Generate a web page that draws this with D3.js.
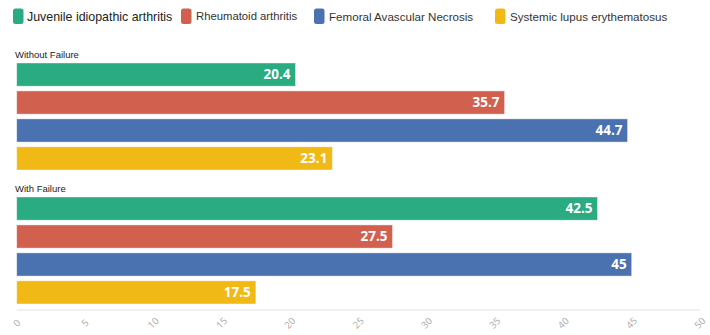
<!DOCTYPE html>
<html>
<head>
<meta charset="utf-8">
<script src="https://cdn.jsdelivr.net/npm/d3@7"></script>
<style>
  html, body { margin: 0; padding: 0; background: #fff; }
  svg { display: block; }
</style>
</head>
<body>
<svg id="chart" width="710" height="335"></svg>
<script>
// Outcome groups and disease series
const groups = ["Without Failure", "With Failure"];
const series = ["Juvenile idiopathic arthritis", "Rheumatoid arthritis", "Femoral Avascular Necrosis", "Systemic lupus erythematosus"];
const colors = ["#2aab81", "#d1604f", "#4a72b1", "#f1b916"];
const withoutFailure = [20.4, 35.7, 44.7, 23.1];
const withFailure = [42.5, 27.5, 45, 17.5];
const xTicks = [0, 5, 10, 15, 20, 25, 30, 35, 40, 45, 50];

const values = [withoutFailure, withFailure];
const rows = [];
groups.forEach((g, gi) => series.forEach((s, si) => rows.push({ group: g, series: s, value: values[gi][si], color: colors[si] })));

const svg = d3.select("#chart");

const x = d3.scaleLinear().domain([0, 50]).range([16.7, 700]);
const gy = d3.scaleBand().domain(groups).range([50, 318]);
const by = d3.scaleBand().domain(series).range([13, 120]).paddingInner(0.17);
const color = d3.scaleOrdinal().domain(series).range(colors);

// Legend
const legendX = [13, 181, 314, 495];
const legendFont = [12.4, 11.3, 11.6, 11.6];
const legend = svg.append("g");
series.forEach((s, i) => {
  const item = legend.append("g").attr("transform", `translate(${legendX[i]},0)`);
  item.append("rect").attr("x", 0).attr("y", 8.5).attr("width", 10.5).attr("height", 15.5)
    .attr("rx", 2.5).attr("fill", color(s));
  item.append("text").attr("x", i === 0 ? 14 : 15).attr("y", 16.5).attr("dy", "0.35em")
    .attr("font-family", "Liberation Sans, Arial, sans-serif").attr("font-size", legendFont[i])
    .attr("fill", i === 0 ? "#222" : "#333").text(s);
});

// Axis
const axis = svg.append("g").attr("transform", "translate(0,310)");
axis.append("line").attr("x1", x(0)).attr("x2", x(50)).attr("stroke", "#e4e4e4").attr("stroke-width", 1.2);
axis.selectAll("text").data(xTicks).join("text")
  .attr("transform", d => `translate(${x(d)},13) rotate(-45)`)
  .attr("text-anchor", "middle").attr("dy", "0.35em")
  .attr("font-family", "Open Sans, sans-serif").attr("font-size", 9.5)
  .attr("fill", "#aaa").text(d => d);

// Groups
const g = svg.selectAll("g.grp").data(groups).join("g").attr("class", "grp")
  .attr("transform", d => `translate(0,${gy(d)})`);

g.append("text").attr("x", 15).attr("y", 5).attr("dy", "0.35em")
  .attr("font-family", "Liberation Sans, Arial, sans-serif").attr("font-size", 9.5)
  .attr("fill", "#222").text(d => d);

g.selectAll("rect").data(d => rows.filter(r => r.group === d)).join("rect")
  .attr("x", x(0)).attr("y", d => by(d.series))
  .attr("width", d => x(d.value) - x(0)).attr("height", by.bandwidth())
  .attr("fill", d => d.color)
  .attr("stroke", "#ffffff").attr("stroke-opacity", 0.5).attr("stroke-width", 0.8);

g.selectAll("text.val").data(d => rows.filter(r => r.group === d)).join("text").attr("class", "val")
  .attr("x", d => x(d.value) - 5).attr("y", d => by(d.series) + by.bandwidth() / 2).attr("dy", "0.36em")
  .attr("text-anchor", "end").attr("font-family", "Open Sans, sans-serif").attr("font-weight", "bold")
  .attr("font-size", 13.5).attr("fill", "#fff").text(d => d.value);
</script>
</body>
</html>
